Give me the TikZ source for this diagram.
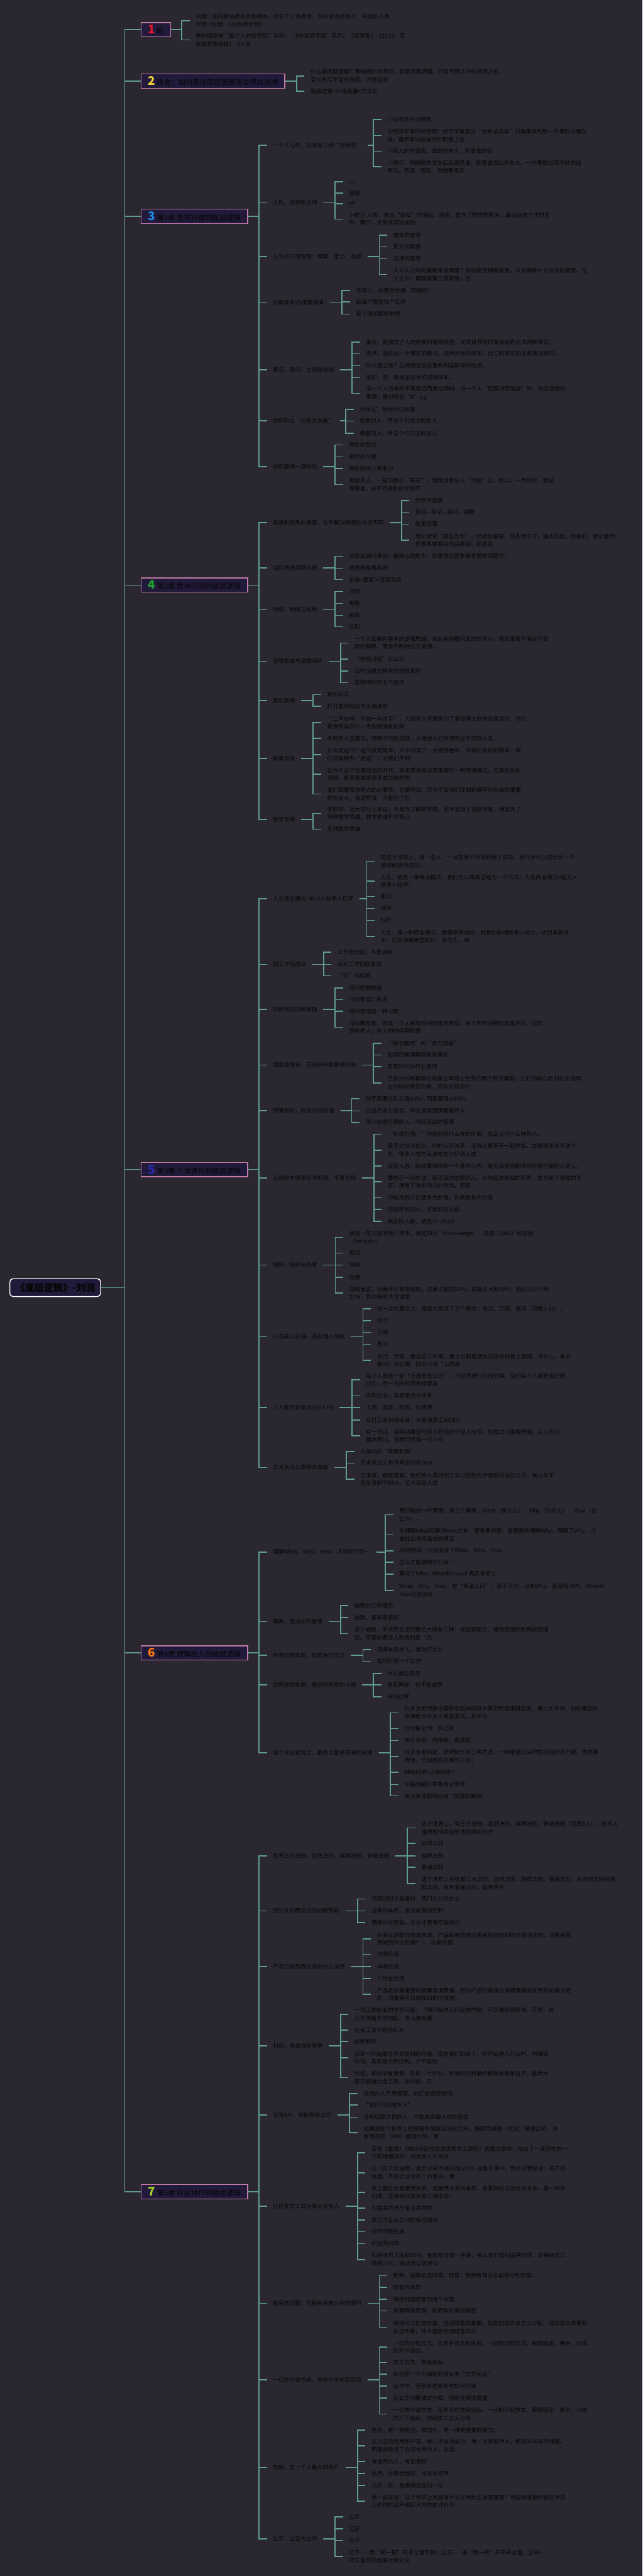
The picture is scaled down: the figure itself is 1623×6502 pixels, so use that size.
\documentclass[tikz,border=0pt]{standalone}
\usepackage{fontspec}
\setmainfont{Noto Sans CJK SC}
\definecolor{bgc}{HTML}{2B2730}
\definecolor{linkc}{HTML}{5F9C95}
\definecolor{txtc}{HTML}{050505}
\definecolor{boxfill}{HTML}{221A3A}
\definecolor{boxline}{HTML}{C27BA6}
\definecolor{nA}{HTML}{E0162B}
\definecolor{nB}{HTML}{F2D23A}
\definecolor{nC}{HTML}{1E88E5}
\definecolor{nD}{HTML}{1FA22E}
\definecolor{nE}{HTML}{2B2BB0}
\definecolor{nF}{HTML}{FF7A12}
\definecolor{nG}{HTML}{A6D22A}
\tikzset{
  txt/.style={anchor=west, xshift=-15pt, inner xsep=15pt, inner ysep=2pt, align=left, text=txtc, font=\fontsize{14}{20}\selectfont},
  link/.style={draw=linkc, line width=2.6pt},
  lonebox/.style={anchor=west, draw=boxline, fill=boxfill, line width=2.2pt, minimum height=36pt, inner xsep=17pt, inner ysep=3pt, text=txtc, font=\fontsize{18}{20}\selectfont},
  rootbox/.style={draw=white, fill=boxfill, line width=2.2pt, rounded corners=8pt, minimum width=229pt, minimum height=45pt, text=txtc, font=\fontsize{24}{26}\selectfont\bfseries}
}
\newcommand\lf[4]{\node[txt] (#1) at (#2,#3) {#4};}
\newcommand\lk[2]{\draw[link] (#1.east) -| ([xshift=-20pt]#2.west) -- (#2.west);}
\newcommand\tk[1]{\draw[link] (root.east) -| ([xshift=-40pt]#1.west) -- (#1.west);}
\newcommand\numb[2]{{\fontsize{30}{30}\selectfont\bfseries\color{#1}#2}\hspace{5pt}}
\begin{document}
\begin{tikzpicture}[x=1pt,y=-1pt]
\useasboundingbox (0,0) rectangle (1623,6502);
\fill[bgc] (0,0) rectangle (1623,6502);

% root and level-1
\node[rootbox] (root) at (139.5,3250) {《底层逻辑》-刘润};
\node[lonebox] (b1) at (355,75) {\numb{nA}{1}旺};
\node[lonebox] (b2) at (355,205) {\numb{nB}{2}序言：如何用底层逻辑看清世界的底牌};
\node[lonebox] (b3) at (355,546) {\numb{nC}{3}第1章 是非对错的底层逻辑};
\node[lonebox] (b4) at (355,1477) {\numb{nD}{4}第2章 思考问题的底层逻辑};
\node[lonebox] (b5) at (355,2952) {\numb{nE}{5}第3章 个体进化的底层逻辑};
\node[lonebox] (b6) at (355,4172) {\numb{nF}{6}第4章 理解他人的底层逻辑};
\node[lonebox] (b7) at (355,5532) {\numb{nG}{7}第5章 社会协作的底层逻辑};
\tk{b1}\tk{b2}\tk{b3}\tk{b4}\tk{b5}\tk{b6}\tk{b7}

% box 1
\lf{n1a}{494}{52}{刘润：国内著名商业咨询顾问，出生于江苏南京。润米咨询创始人，中国私人商\\学院《刘润·5分钟商学院》}
\lf{n1b}{494}{101}{著有畅销书“每个人的商学院”系列、“5分钟商学院”系列、《新零售》《2012，买\\张船票去南极》《人生}
\lk{b1}{n1a}\lk{b1}{n1b}

% box 2
\lf{n2a}{784}{192}{什么是底层逻辑？事物间的共同点，就是底层逻辑。只有不同之中的相同之处、\\变化背后不变的东西，才是底层}
\lf{n2b}{784}{230}{底层逻辑+环境变量=方法论}
\lk{b2}{n2a}\lk{b2}{n2b}

% box 3
\lf{n3a}{689}{367}{一个人心中，应该有三种“对错观”}
\lf{n3a1}{978}{302}{①法学家的对错观}
\lf{n3a2}{978}{342}{②经济学家的对错观：经济学家是从“社会总成本”的角度来判断一件事的对错在\\谁。虽然有时这样的判断看上去}
\lf{n3a3}{978}{382}{③商人的对错观：谁的损失大，就是谁的错。}
\lf{n3a4}{978}{421}{小提示：判断损失发生后应该怪谁，就看谁因此损失大。一件事情出现不好的结\\果时，责怪、埋怨、后悔都是无}
\lk{n3a}{n3a1}\lk{n3a}{n3a2}\lk{n3a}{n3a3}\lk{n3a}{n3a4}
\lf{n3b}{689}{512}{人性、道德和法律}
\lf{n3b1}{881}{459}{eJ}
\lf{n3b2}{881}{487}{道德}
\lf{n3b3}{881}{514}{eP}
\lf{n3b4}{881}{553}{小提示 人性，来自“自私”的基因。道德，是为了群体的繁荣，最后促进个体的生\\存、繁衍，大家共同达成的}
\lk{n3b}{n3b1}\lk{n3b}{n3b2}\lk{n3b}{n3b3}\lk{n3b}{n3b4}
\lf{n3c}{689}{648}{人生的三层智慧：博弈、定力、选择}
\lf{n3c1}{993}{594}{博弈的智慧}
\lf{n3c2}{993}{623}{定力的智慧}
\lf{n3c3}{993}{653}{选择的智慧}
\lf{n3c4}{993}{693}{人与人之间的差距来自哪里？来自是否拥有智慧，以及拥有什么层次的智慧。在\\人生中，博弈是第三层智慧，定}
\lk{n3c}{n3c1}\lk{n3c}{n3c2}\lk{n3c}{n3c3}\lk{n3c}{n3c4}
\lf{n3d}{689}{763}{公理体系VS逻辑推演}
\lf{n3d1}{899}{733}{学李白，也要学杜甫（即兼听）}
\lf{n3d2}{899}{762}{给每个模型找个反例}
\lf{n3d3}{899}{793}{每个理论都有前提}
\lk{n3d}{n3d1}\lk{n3d}{n3d2}\lk{n3d}{n3d3}
\lf{n3e}{689}{933}{事实、观点、立场和信仰}
\lf{n3e1}{924}{864}{事实，是独立于人的判断的客观存在。现实世界有时复杂到你无法判断事实。}
\lf{n3e2}{924}{893}{观点，是你对一个事实的看法。观点和你的关系，比它和事实的关系更加密切。}
\lf{n3e3}{924}{923}{什么是立场？立场就是被位置和利益影响的观点。}
\lf{n3e4}{924}{953}{信仰，是一套完全自洽的逻辑体系。}
\lf{n3e5}{924}{993}{当一个人持有的不是观点而是立场时，当一个人“屁股决定脑袋”时，你应该做的\\事情，是对他说“It's g}
\lk{n3e}{n3e1}\lk{n3e}{n3e2}\lk{n3e}{n3e3}\lk{n3e}{n3e4}\lk{n3e}{n3e5}
\lf{n3f}{689}{1062}{如何防止“注射式洗脑”}
\lf{n3f1}{908}{1033}{为什么”背后的注射器}
\lf{n3f2}{908}{1063}{狡猾的人，用这个句式注射别人}
\lf{n3f3}{908}{1094}{愚蠢的人，用这个句式注射自己}
\lk{n3f}{n3f1}\lk{n3f}{n3f2}\lk{n3f}{n3f3}
\lf{n3g}{689}{1178}{如何赢得一场辩论}
\lf{n3g1}{881}{1123}{辩论的目的}
\lf{n3g2}{881}{1153}{辩论的关键}
\lf{n3g3}{881}{1183}{辩论的核心竞争力}
\lf{n3g4}{881}{1223}{有很多人，一直习惯于“表达”，但是没有与人“交锋”过。所以，一旦辩论，就显\\得笨拙。这不代表你的学识不}
\lk{n3g}{n3g1}\lk{n3g}{n3g2}\lk{n3g}{n3g3}\lk{n3g}{n3g4}
\lk{b3}{n3a}\lk{b3}{n3b}\lk{b3}{n3c}\lk{b3}{n3d}\lk{b3}{n3e}\lk{b3}{n3f}\lk{b3}{n3g}

% box 4
\lf{n4a}{689}{1319}{普通和优秀的差距，在于解决问题的方式不同}
\lf{n4a1}{1049}{1264}{经验不靠谱}
\lf{n4a2}{1049}{1293}{假设—验证—结论—调整}
\lf{n4a3}{1049}{1323}{就事论事}
\lf{n4a4}{1049}{1364}{我们常说“眼见为实”，经验很重要。很多情况下，确实如此。但有时，我们看到\\的表象或者经验会欺骗、迷惑我}
\lk{n4a}{n4a1}\lk{n4a}{n4a2}\lk{n4a}{n4a3}\lk{n4a}{n4a4}
\lf{n4b}{689}{1433}{如何快速洞察本质}
\lf{n4b1}{881}{1404}{对商业顾问来说，最核心的能力，就是透过现象看本质的洞察力。}
\lf{n4b2}{881}{1434}{透过表象看系统}
\lf{n4b3}{881}{1463}{系统=要素×连接关系}
\lk{n4b}{n4b1}\lk{n4b}{n4b2}\lk{n4b}{n4b3}
\lf{n4c}{689}{1539}{流程、制度与系统}
\lf{n4c1}{881}{1493}{流程}
\lf{n4c2}{881}{1523}{制度}
\lf{n4c3}{881}{1553}{系统}
\lf{n4c4}{881}{1582}{区别}
\lk{n4c}{n4c1}\lk{n4c}{n4c2}\lk{n4c}{n4c3}\lk{n4c}{n4c4}
\lf{n4d}{689}{1669}{逻辑思维与逻辑闭环}
\lf{n4d1}{895}{1623}{一个人如果有基本的逻辑思维，就会有刨根问底的好奇心，遇到事情不满足于表\\面的解释，而是不断地往下追溯。}
\lf{n4d2}{895}{1664}{“刨根问底”怎么玩}
\lf{n4d3}{895}{1694}{四句话建立基本的逻辑素养}
\lf{n4d4}{895}{1723}{逻辑闭环的五个层次}
\lk{n4d}{n4d1}\lk{n4d}{n4d2}\lk{n4d}{n4d3}\lk{n4d}{n4d4}
\lf{n4e}{689}{1768}{复利思维}
\lf{n4e1}{826}{1753}{复利公式}
\lf{n4e2}{826}{1783}{打开复利效应的正确姿势}
\lk{n4e}{n4e1}\lk{n4e}{n4e2}
\lf{n4f}{689}{1914}{概率思维}
\lf{n4f1}{826}{1824}{“二鸟在林，不如一鸟在手”，大部分人不愿意为了看似更大的收益冒风险，他们\\更喜欢虽然小一点但是确定的收}
\lf{n4f2}{826}{1864}{不同的人生算法，导致不同的选择，从而使人们获得完全不同的人生。}
\lf{n4f3}{826}{1905}{什么是运气？运气就是概率，只不过加了一点感情色彩。对我们有利的概率，我\\们将其称为“走运”；对我们不利}
\lf{n4f4}{826}{1954}{在今天这个急速变化的时代，概率思维是非常重要的一种思维模式，尤其在创业\\领域。概率思维是很多成功者的思}
\lf{n4f5}{826}{2004}{我们既要相信努力的必要性，也要明白，完全不受我们控制的概率对创业的重要\\性有多大。我这样说，不是为了打}
\lk{n4f}{n4f1}\lk{n4f}{n4f2}\lk{n4f}{n4f3}\lk{n4f}{n4f4}\lk{n4f}{n4f5}
\lf{n4g}{689}{2068}{数学思维}
\lf{n4g1}{826}{2053}{学数学，对大部分人来说，不是为了解数学题，也不是为了当数学家，而是为了\\培养数学思维。数学思维不仅能让}
\lf{n4g2}{826}{2093}{五种数学思维}
\lk{n4g}{n4g1}\lk{n4g}{n4g2}
\lk{b4}{n4a}\lk{b4}{n4b}\lk{b4}{n4c}\lk{b4}{n4d}\lk{b4}{n4e}\lk{b4}{n4f}\lk{b4}{n4g}

% box 5
\lf{n5a}{689}{2268}{人生商业模式=能力×效率×杠杆}
\lf{n5a1}{961}{2174}{在这个世界上，有一些人，一旦在某个领域获得了成功，就几乎可以在任何一个\\领域都获得成功。}
\lf{n5a2}{961}{2224}{人生，就是一种商业模式。我们可以将其总结为一个公式：人生商业模式=能力×\\效率×杠杆。}
\lf{n5a3}{961}{2263}{能力}
\lf{n5a4}{961}{2293}{效率}
\lf{n5a5}{961}{2323}{杠杆}
\lf{n5a6}{961}{2364}{人生，是一种商业模式。想要获得成功，就看你能拥有多少能力，达到多高效\\率，以及使用哪些杠杆。有的人，用}
\lk{n5a}{n5a1}\lk{n5a}{n5a2}\lk{n5a}{n5a3}\lk{n5a}{n5a4}\lk{n5a}{n5a5}\lk{n5a}{n5a6}
\lf{n5b}{689}{2434}{把工作当成玩}
\lf{n5b1}{852}{2403}{工作是创造，不是消耗}
\lf{n5b2}{852}{2434}{玩和工作的四象限}
\lf{n5b3}{852}{2463}{“玩”出成就}
\lk{n5b}{n5b1}\lk{n5b}{n5b2}\lk{n5b}{n5b3}
\lf{n5c}{689}{2548}{如何做好时间管理}
\lf{n5c1}{881}{2494}{时间的颗粒度}
\lf{n5c2}{881}{2523}{时间管理三层次}
\lf{n5c3}{881}{2553}{时间管理是一种习惯}
\lf{n5c4}{881}{2593}{时间颗粒度，就是一个人管理时间的基本单位。有人的时间颗粒度是半天，比如\\退休老人；有人的时间颗粒度}
\lk{n5c}{n5c1}\lk{n5c}{n5c2}\lk{n5c}{n5c3}\lk{n5c}{n5c4}
\lf{n5d}{689}{2688}{指数级增长、正态分布和幂律分布}
\lf{n5d1}{978}{2633}{“骰子魔咒”和“弯刀诱惑”}
\lf{n5d2}{978}{2663}{如何正确理解指数级增长}
\lf{n5d3}{978}{2692}{变革时代的行业选择}
\lf{n5d4}{978}{2733}{正态分布和幂律分布是主宰商业世界的两个数学模型，它们的核心区别在于边际\\交付时间是否为零。只有边际交付}
\lk{n5d}{n5d1}\lk{n5d}{n5d2}\lk{n5d}{n5d3}\lk{n5d}{n5d4}
\lf{n5e}{689}{2803}{把事做对，创造10倍价值}
\lf{n5e1}{923}{2773}{你不是要比别人强10\%，而是要强1000\%}
\lf{n5e2}{923}{2804}{让自己发生改变，你会发现周围都是好人}
\lf{n5e3}{923}{2833}{用心创造价值的人，时间会给你答案}
\lk{n5e}{n5e1}\lk{n5e}{n5e2}\lk{n5e}{n5e3}
\lf{n5f}{689}{2973}{人脉的本质是给予价值、平等交换}
\lf{n5f1}{979}{2863}{“创造价值。”你能创造什么样的价值，就会认识什么样的人。}
\lf{n5f2}{979}{2903}{君子之交淡如水。好的人际关系，没有必要天天一起吃饭，或者逢年过节送个\\礼。很多人想方设法地去讨好别人或}
\lf{n5f3}{979}{2943}{经营人脉，始终要保持的一个基本心态：毫无保留地把你的价值付诸别人身上。}
\lf{n5f4}{979}{2983}{要想尽一切办法，毫无目的地帮别人。当你经过长期的积累，成为某个领域的专\\家，拥有了有影响力的作品，那些}
\lf{n5f5}{979}{3023}{你能为别人创造多大价值，你就有多大价值}
\lf{n5f6}{979}{3053}{你能帮到的人，才是你的人脉}
\lf{n5f7}{979}{3083}{真正的人脉，就是10-30-60}
\lk{n5f}{n5f1}\lk{n5f}{n5f2}\lk{n5f}{n5f3}\lk{n5f}{n5f4}\lk{n5f}{n5f5}\lk{n5f}{n5f6}\lk{n5f}{n5f7}
\lf{n5g}{689}{3193}{知识、技能与态度}
\lf{n5g1}{882}{3123}{我这一生只能学会三件事，就是知识（Knowledge）、技能（Skill）和态度\\（Attitude）}
\lf{n5g2}{882}{3163}{知识}
\lf{n5g3}{882}{3193}{技能}
\lf{n5g4}{882}{3224}{态度}
\lf{n5g5}{882}{3264}{总结而言，对我今天有帮助的，态度占超过50\%；技能占大概30\%；知识只占不到\\20\%，其中来自大学课堂}
\lk{n5g}{n5g1}\lk{n5g}{n5g2}\lk{n5g}{n5g3}\lk{n5g}{n5g4}\lk{n5g}{n5g5}
\lf{n5h}{689}{3374}{心态高过云端，姿态埋入地底}
\lf{n5h1}{952}{3303}{在一次私董会上，我给大家讲了三个概念：自污、示弱、看淡（见图3-10）。}
\lf{n5h2}{952}{3334}{自污}
\lf{n5h3}{952}{3363}{示弱}
\lf{n5h4}{952}{3393}{看淡}
\lf{n5h5}{952}{3434}{自污、示弱、看淡这三件事，看上去都是把自己踩在地板上摩擦。凭什么，有必\\要吗？有必要。因为只有“心态高}
\lk{n5h}{n5h1}\lk{n5h}{n5h2}\lk{n5h}{n5h3}\lk{n5h}{n5h4}\lk{n5h}{n5h5}
\lf{n5i}{689}{3553}{人人都应该是自己的CEO}
\lf{n5i1}{924}{3483}{每个人都是一家“无限责任公司”，与世界进行价值交换，我们每个人都是自己的\\CEO，用一生的时间来经营自}
\lf{n5i2}{924}{3523}{你和企业，本质是合伙关系}
\lf{n5i3}{924}{3553}{工资、奖金、股权、价值观}
\lf{n5i4}{924}{3584}{从打工者到创业者，从普通员工到CEO}
\lf{n5i5}{924}{3624}{有一句话，我特别希望与初入职场的年轻人分享：松鼠过河需要策略，巨人过河\\踏水而过。当我们还是一只小松}
\lk{n5i}{n5i1}\lk{n5i}{n5i2}\lk{n5i}{n5i3}\lk{n5i}{n5i4}\lk{n5i}{n5i5}
\lf{n5j}{689}{3704}{艺术家为人类带来自由}
\lf{n5j1}{910}{3664}{人体内的“奖励机制”}
\lf{n5j2}{910}{3693}{艺术家让人类不再受制于DNA}
\lf{n5j3}{910}{3734}{艺术家，都是黑客。他们给人类找到了自己控制化学物质分泌的方法，使人类不\\完全受制于DNA。艺术家给人类}
\lk{n5j}{n5j1}\lk{n5j}{n5j2}\lk{n5j}{n5j3}
\lk{b5}{n5a}\lk{b5}{n5b}\lk{b5}{n5c}\lk{b5}{n5d}\lk{b5}{n5e}\lk{b5}{n5f}\lk{b5}{n5g}\lk{b5}{n5h}\lk{b5}{n5i}\lk{b5}{n5j}

% box 6
\lf{n6a}{689}{3918}{理解What、Why、How，才能知行合一}
\lf{n6a1}{1008}{3823}{我们描述一件事情，有三个角度：What（是什么）；Why（为什么）；How（怎\\么办）。}
\lf{n6a2}{1008}{3874}{在理解What和解决How之前，更重要的是，需要首先理解Why。理解了Why，才\\能找到他所面临的真正}
\lf{n6a3}{1008}{3914}{鸡同鸭讲，只因混淆了What、Why、How}
\lf{n6a4}{1008}{3943}{怎么才能做到知行合一}
\lf{n6a5}{1008}{3973}{解决了Why，What和How才真正有意义}
\lf{n6a6}{1008}{4014}{What、Why、How，是“黄金三问”，密不可分。没有Why，就没有动力，What和\\How也就没有}
\lk{n6a}{n6a1}\lk{n6a}{n6a2}\lk{n6a}{n6a3}\lk{n6a}{n6a4}\lk{n6a}{n6a5}\lk{n6a}{n6a6}
\lf{n6b}{689}{4093}{幽默，是溢出的智慧}
\lf{n6b1}{895}{4053}{幽默的三种理论}
\lf{n6b2}{895}{4083}{幽默，是举重若轻}
\lf{n6b3}{895}{4123}{关于幽默，学术界主流的理论大概有三种：优越感理论、错愕感理论和释放感理\\论。不管你要给人制造的是“优}
\lk{n6b}{n6b1}\lk{n6b}{n6b2}\lk{n6b}{n6b3}
\lf{n6c}{689}{4178}{所谓洞察本质，就是会打比方}
\lf{n6c1}{952}{4164}{洞察本质的人，都会打比方}
\lf{n6c2}{952}{4193}{如何打好一个比方}
\lk{n6c}{n6c1}\lk{n6c}{n6c2}
\lf{n6d}{689}{4253}{边界感的本质，是对所有权的认知}
\lf{n6d1}{978}{4224}{什么是边界感}
\lf{n6d2}{978}{4253}{关系再好，也不能越界}
\lf{n6d3}{978}{4283}{守住边界}
\lk{n6d}{n6d1}\lk{n6d}{n6d2}\lk{n6d}{n6d3}
\lf{n6e}{689}{4424}{每个创业者背后，都有大量多巴胺的支撑}
\lf{n6e1}{1021}{4323}{仇子龙老师是中国科学院神经科学研究所高级研究员、博士生导师，他的基因科\\学课程令许多人受益匪浅，其中也}
\lf{n6e2}{1021}{4363}{行动催化剂：多巴胺}
\lf{n6e3}{1021}{4393}{快乐源泉：内啡肽、血清素}
\lf{n6e4}{1021}{4434}{仇子龙老师说，获得快乐有三种方法，一种是通过目的性很强的多巴胺，去找事\\情做，比如完成艰难的工作；}
\lf{n6e5}{1021}{4473}{神经科学=认知科学？}
\lf{n6e6}{1021}{4504}{从基因脑科学看商业世界}
\lf{n6e7}{1021}{4533}{商业家该如何运用“奖励机制表”}
\lk{n6e}{n6e1}\lk{n6e}{n6e2}\lk{n6e}{n6e3}\lk{n6e}{n6e4}\lk{n6e}{n6e5}\lk{n6e}{n6e6}\lk{n6e}{n6e7}
\lk{b6}{n6a}\lk{b6}{n6b}\lk{b6}{n6c}\lk{b6}{n6d}\lk{b6}{n6e}

% box 7
\lf{n7a}{689}{4684}{世界三大法则：自然法则、族群法则、普遍法则}
\lf{n7a1}{1064}{4614}{这个世界上，有三大法则：自然法则、族群法则、普遍法则（见图5-1）。成年人\\懂得如何用这些法则来和对方}
\lf{n7a2}{1064}{4653}{自然法则}
\lf{n7a3}{1064}{4684}{族群法则}
\lf{n7a4}{1064}{4713}{普遍法则}
\lf{n7a5}{1064}{4754}{这个世界上存在着三大法则：自然法则、族群法则、普遍法则。从自然法则到族\\群法则，再到普遍法则，是世界不}
\lk{n7a}{n7a1}\lk{n7a}{n7a2}\lk{n7a}{n7a3}\lk{n7a}{n7a4}\lk{n7a}{n7a5}
\lf{n7b}{689}{4823}{找到并利用自己的战略势能}
\lf{n7b1}{938}{4793}{当我们讨论能量时，我们在讨论什么}
\lf{n7b2}{938}{4823}{战争的本质，是对能量的控制}
\lf{n7b3}{938}{4853}{借助外在势能，企业才更有可能成功}
\lk{n7b}{n7b1}\lk{n7b}{n7b2}\lk{n7b}{n7b3}
\lf{n7c}{689}{4964}{产品价格到底应该由什么决定}
\lf{n7c1}{952}{4894}{从商业洞察的角度来说，产品价格是由消费者能感知到的价值决定的。消费者能\\感知到什么价值？——功能价值、}
\lf{n7c2}{952}{4933}{功能价值}
\lf{n7c3}{952}{4964}{体验价值}
\lf{n7c4}{952}{4994}{个性化价值}
\lf{n7c5}{952}{5034}{产品定价最重要的因素是消费者，因为产品价格是由消费者能感知到的价值决定\\的。消费者可以感知到的价值包}
\lk{n7c}{n7c1}\lk{n7c}{n7c2}\lk{n7c}{n7c3}\lk{n7c}{n7c4}\lk{n7c}{n7c5}
\lf{n7d}{689}{5164}{利润，来自没有竞争}
\lf{n7d1}{895}{5084}{一位正在创业的学员问我：“刚开始进入行业的时候，可以赚到很多钱。可是，这\\几年随着竞争加剧，收入越来越}
\lf{n7d2}{895}{5124}{社会工资与趋势红利}
\lf{n7d3}{895}{5153}{创新利润}
\lf{n7d4}{895}{5194}{回到一开始那位学员提到的问题，现在我们知道了，刚开始进入行业时，他赚到\\的钱，其实是市场红利，并不是他}
\lf{n7d5}{895}{5244}{利润，来自没有竞争。任何一个行业，所有的红利最终都会被竞争拉平，最后大\\家只能赚社会工资。这时候，只}
\lk{n7d}{n7d1}\lk{n7d}{n7d2}\lk{n7d}{n7d3}\lk{n7d}{n7d4}\lk{n7d}{n7d5}
\lf{n7e}{689}{5338}{没有KPI，也能管好公司}
\lf{n7e1}{918}{5284}{优秀的人不用管理，他们会自我驱动。}
\lf{n7e2}{918}{5313}{“我们只招成年人”}
\lf{n7e3}{918}{5344}{没有后顾之忧的人，才能发挥最大的创造性}
\lf{n7e4}{918}{5383}{如果说这个世界上的管理有儒家和法家之分，儒家用道德（文化）管理公司，法\\家用规则（KPI）管理公司，那}
\lk{n7e}{n7e1}\lk{n7e}{n7e2}\lk{n7e}{n7e3}\lk{n7e}{n7e4}
\lf{n7f}{689}{5569}{让优秀员工成为事业合伙人}
\lf{n7f1}{938}{5434}{我在《警惕！你的HR正在劝说优秀员工辞职》这篇文章中，指出了一直存在的一\\个职场潜规则：对优秀人才来说}
\lf{n7f2}{938}{5484}{在《员工忠诚度，是企业戒不掉的指尖沙》这篇文章中，我又斗胆说道：员工忠\\诚度，不是企业对员工的要求，是}
\lf{n7f3}{938}{5534}{员工和企业是雇用关系，但雇用关系的本质，是某种形式的合伙关系，是一种共\\同体。这种合伙关系有三种形态：}
\lf{n7f4}{938}{5573}{利益共同体与事业共同体}
\lf{n7f5}{938}{5603}{员工与企业之间的相互期待}
\lf{n7f6}{938}{5633}{时代的接生婆}
\lf{n7f7}{938}{5663}{命运共同体}
\lf{n7f8}{938}{5703}{如果给员工涨薪50\%，他愿意去做一件事，那么你们是利益共同体。如果给员工\\降薪50\%，做成可以享受50}
\lk{n7f}{n7f1}\lk{n7f}{n7f2}\lk{n7f}{n7f3}\lk{n7f}{n7f4}\lk{n7f}{n7f5}\lk{n7f}{n7f6}\lk{n7f}{n7f7}\lk{n7f}{n7f8}
\lf{n7g}{689}{5814}{勤劳能创富，但勤劳者能分到财富吗}
\lf{n7g1}{993}{5744}{勤劳，能够创造财富。但是，勤劳者却未必能够分到财富。}
\lf{n7g2}{993}{5773}{财富的本质}
\lf{n7g3}{993}{5803}{劳动创造财富的两个问题}
\lf{n7g4}{993}{5833}{掌握稀缺资源，就拥有财富分配权}
\lf{n7g5}{993}{5874}{劳动可以创造财富，创造财富很重要，但是财富应该怎么分配、谁应该比谁更有\\钱这件事，并不是由创造财富的人}
\lk{n7g}{n7g1}\lk{n7g}{n7g2}\lk{n7g}{n7g3}\lk{n7g}{n7g4}\lk{n7g}{n7g5}
\lf{n7h}{689}{6007}{一切的分钱方式，无外乎优先和劣后}
\lf{n7h1}{993}{5924}{一切的分钱方式，无外乎优先和劣后；一切的分配方式，都是固定、剩余、分成\\的万千组合。”}
\lf{n7h2}{993}{5963}{员工优先，老板劣后}
\lf{n7h3}{993}{5992}{如何在一个不确定的项目中“优先劣后”}
\lf{n7h4}{993}{6023}{合作中，竞争有优劣势时如何分钱}
\lf{n7h5}{993}{6053}{企业之间要通过分成，创造全局性增量}
\lf{n7h6}{993}{6093}{一切的分钱方式，无外乎优先和劣后。一切的分配方式，都是固定、剩余、分成\\的万千组合。你和员工怎么分钱}
\lk{n7h}{n7h1}\lk{n7h}{n7h2}\lk{n7h}{n7h3}\lk{n7h}{n7h4}\lk{n7h}{n7h5}\lk{n7h}{n7h6}
\lf{n7i}{689}{6228}{信用，是一个人最大的资产}
\lf{n7i1}{938}{6134}{信任，是一种能力。被信任，是一种更重要的能力。}
\lf{n7i2}{938}{6173}{在人生的信用账户里，每一次言出必行、每一次真诚待人，都是对未来的储蓄。\\而那些败光了自己信用的人，永远}
\lf{n7i3}{938}{6213}{有信用的人，有话事权}
\lf{n7i4}{938}{6243}{信用，比黄金值钱，比性命还贵}
\lf{n7i5}{938}{6273}{人的一生，是赢得信任的一生}
\lf{n7i6}{938}{6313}{我一直在想：这个世界上到底有什么东西比生命更重要？可能就是最终留在世界\\上的你的名声和别人对你的评价吧}
\lk{n7i}{n7i1}\lk{n7i}{n7i2}\lk{n7i}{n7i3}\lk{n7i}{n7i4}\lk{n7i}{n7i5}\lk{n7i}{n7i6}
\lf{n7j}{689}{6408}{公平、公正与公开}
\lf{n7j1}{881}{6353}{公平}
\lf{n7j2}{881}{6383}{公正}
\lf{n7j3}{881}{6412}{公开}
\lf{n7j4}{881}{6453}{公平——用“同一把”尺子丈量万物；公正——选“哪一把”尺子来丈量；公开——\\把丈量的过程展示给公众}
\lk{n7j}{n7j1}\lk{n7j}{n7j2}\lk{n7j}{n7j3}\lk{n7j}{n7j4}
\lk{b7}{n7a}\lk{b7}{n7b}\lk{b7}{n7c}\lk{b7}{n7d}\lk{b7}{n7e}\lk{b7}{n7f}\lk{b7}{n7g}\lk{b7}{n7h}\lk{b7}{n7i}\lk{b7}{n7j}
\end{tikzpicture}
\end{document}
